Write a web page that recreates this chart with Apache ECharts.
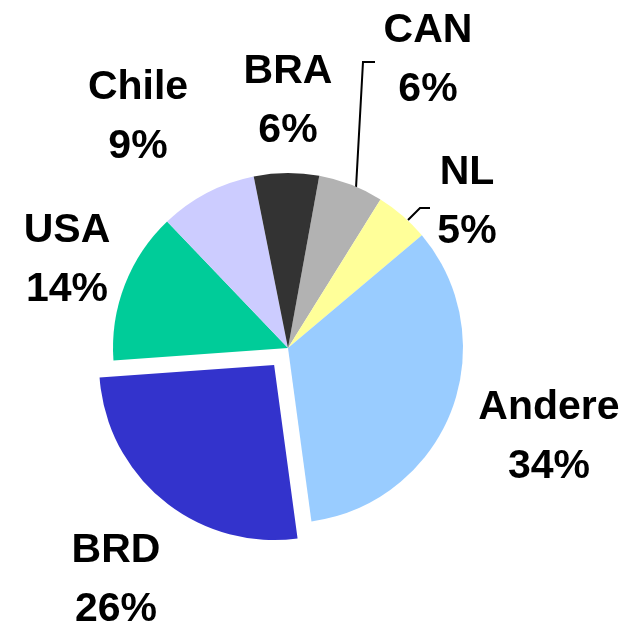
<!DOCTYPE html>
<html><head><meta charset="utf-8">
<script src="https://cdn.jsdelivr.net/npm/echarts@6/dist/echarts.min.js"></script>
<style>html,body{margin:0;padding:0;background:#fff;overflow:hidden}#c{width:632px;height:630px}</style>
</head><body><div id="c"></div>
<script>
const categories = ['CAN', 'NL', 'Andere', 'BRD', 'USA', 'Chile', 'BRA'];
const shares = [6, 5, 34, 26, 14, 9, 6];
const explodedCategory = 'BRD';

// styling / layout (kept separate from data)
const colors = ['#b2b2b2', '#ffff99', '#99ccff', '#3333cc', '#00cc99', '#ccccff', '#333333'];
const pieCenter = [288, 348];
const pieRadius = 175;
const startAngle = 79.7;
const explodeOffset = 22;
const labelAnchors = {CAN: [428, 60], NL: [467, 202], Andere: [549, 437], BRD: [116, 580], USA: [67, 260], Chile: [138, 117], BRA: [288, 101]};
const leaderLines = {CAN: [[356, 188], [363, 62], [375, 62]], NL: [[408, 220], [420, 208], [430, 208]]};

// direction of the exploded slice, derived from the data
const total = shares.reduce((a, b) => a + b, 0);
const exIdx = categories.indexOf(explodedCategory);
const before = shares.slice(0, exIdx).reduce((a, b) => a + b, 0);
const midDeg = startAngle - (before + shares[exIdx] / 2) / total * 360;
const midRad = midDeg * Math.PI / 180;
const explodedCenter = [pieCenter[0] + explodeOffset * Math.cos(midRad), pieCenter[1] - explodeOffset * Math.sin(midRad)];

const clear = 'rgba(0,0,0,0)';
const baseData = categories.map((name, i) => ({
  name: name,
  value: shares[i],
  itemStyle: {color: name === explodedCategory ? clear : colors[i]},
  labelLine: {show: !!leaderLines[name]}
}));
const explodedData = categories.map((name, i) => ({
  name: name,
  value: shares[i],
  itemStyle: {color: name === explodedCategory ? colors[i] : clear}
}));

const chart = echarts.init(document.getElementById('c'), null, {renderer: 'canvas'});
chart.setOption({
  animation: false,
  backgroundColor: '#ffffff',
  series: [{
    type: 'pie',
    center: pieCenter,
    radius: pieRadius,
    startAngle: startAngle,
    clockwise: true,
    avoidLabelOverlap: false,
    data: baseData,
    itemStyle: {borderWidth: 0},
    emphasis: {disabled: true},
    label: {
      show: true,
      position: 'outside',
      formatter: p => p.name + '\n' + p.value + '%',
      fontFamily: '"Liberation Sans", Arial, sans-serif',
      fontWeight: 'bold',
      fontSize: 41,
      lineHeight: 59,
      color: '#000'
    },
    labelLine: {lineStyle: {color: '#000', width: 2}},
    labelLayout: p => {
      const name = categories[p.dataIndex];
      const a = labelAnchors[name];
      const r = {x: a[0], y: a[1], align: 'center', verticalAlign: 'middle'};
      if (leaderLines[name]) r.labelLinePoints = leaderLines[name];
      return r;
    }
  }, {
    type: 'pie',
    center: explodedCenter,
    radius: pieRadius,
    startAngle: startAngle,
    clockwise: true,
    silent: true,
    data: explodedData,
    itemStyle: {borderWidth: 0},
    emphasis: {disabled: true},
    label: {show: false},
    labelLine: {show: false}
  }]
});
</script>
</body></html>
